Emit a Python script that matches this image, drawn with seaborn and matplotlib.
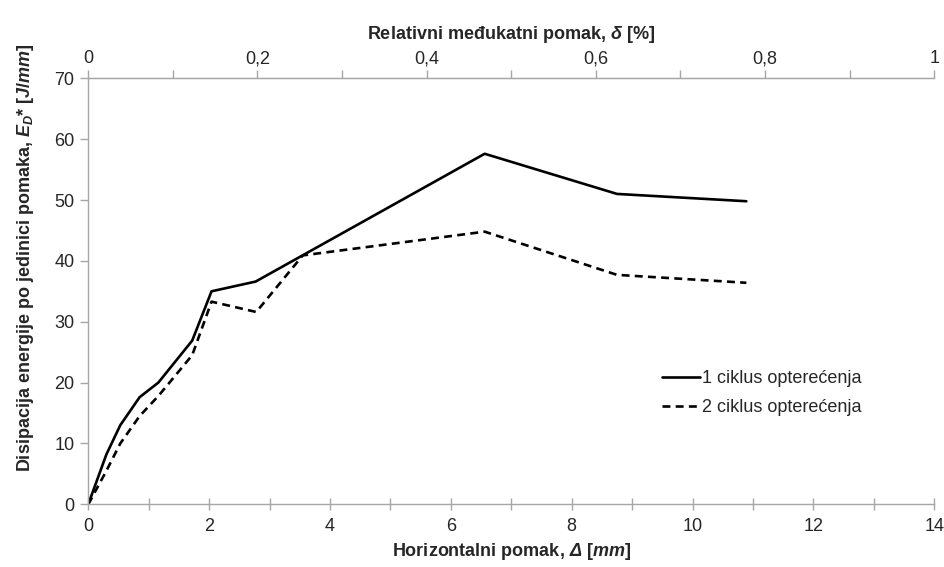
import matplotlib
matplotlib.use("Agg")
import matplotlib.pyplot as plt
import seaborn as sns
import pandas as pd
from matplotlib.ticker import MultipleLocator, FixedLocator, FixedFormatter

# Data
disp_c1 = [0.0, 0.30, 0.53, 0.85, 1.16, 1.72, 2.04, 2.77, 3.60, 6.56, 8.75, 10.89]
energy_c1 = [0.0, 8.2, 13.0, 17.6, 20.0, 26.9, 35.0, 36.6, 41.2, 57.6, 51.0, 49.8]
disp_c2 = [0.0, 0.30, 0.53, 0.85, 1.16, 1.72, 2.04, 2.78, 3.55, 6.56, 8.75, 10.89]
energy_c2 = [0.0, 5.5, 10.0, 14.5, 17.8, 24.5, 33.3, 31.6, 40.9, 44.8, 37.7, 36.4]
series_labels = ["1 ciklus opterećenja", "2 ciklus opterećenja"]
top_ticks = [0, 0.2, 0.4, 0.6, 0.8, 1.0]
top_tick_labels = ["0", "0,2", "0,4", "0,6", "0,8", "1"]
x_max_mm = 14.0

sns.set_style("white")
FONT = ["Liberation Sans", "DejaVu Sans"]
plt.rcParams["font.family"] = FONT
plt.rcParams["mathtext.fontset"] = "custom"
plt.rcParams["mathtext.rm"] = "Liberation Sans:bold"
plt.rcParams["mathtext.it"] = "Liberation Sans:italic:bold"
plt.rcParams["mathtext.bf"] = "Liberation Sans:bold"
plt.rcParams["mathtext.cal"] = "Liberation Sans:italic:bold"

FS = 13
fig = plt.figure(figsize=(9.44, 5.67), dpi=100)
ax = fig.add_axes([0.0935, 0.1106, 0.8962, 0.7513])

df1 = pd.DataFrame({"x": disp_c1, "y": energy_c1})
df2 = pd.DataFrame({"x": disp_c2, "y": energy_c2})
sns.lineplot(data=df1, x="x", y="y", ax=ax, color="black", lw=1.9,
             label=series_labels[0], sort=False, estimator=None)
sns.lineplot(data=df2, x="x", y="y", ax=ax, color="black", lw=1.9,
             label=series_labels[1], sort=False, estimator=None)
ax.lines[1].set_dashes((3, 2))

ax.set_xlim(0, x_max_mm)
ax.set_ylim(0, 70)
ax.xaxis.set_major_locator(MultipleLocator(2))
ax.xaxis.set_minor_locator(MultipleLocator(1))
ax.yaxis.set_major_locator(MultipleLocator(10))

grey = "#a6a6a6"
tc = "#262626"
for s in ["left", "bottom", "top"]:
    ax.spines[s].set_color(grey)
    ax.spines[s].set_linewidth(1.0)
ax.spines["right"].set_visible(False)

ax.tick_params(axis="x", which="both", direction="inout", length=8, width=1,
               color=grey, labelsize=FS, labelcolor=tc, pad=6, bottom=True)
ax.tick_params(axis="y", which="both", direction="out", length=6, width=1,
               color=grey, labelsize=FS, labelcolor=tc, pad=4, left=True)

ax.set_xlabel(r"Horizontalni pomak, $\mathcal{Δ}$ [$\mathit{mm}$]",
              fontsize=FS, fontweight="bold", color=tc, labelpad=4)
ax.set_ylabel(r"Disipacija energije po jedinici pomaka, $\mathit{E_D}$* [$\mathit{J/mm}$]",
              fontsize=FS, fontweight="bold", color=tc)
ax.yaxis.set_label_coords(-0.062, 0.578)

sec = ax.secondary_xaxis("top", functions=(lambda x: x / x_max_mm, lambda d: d * x_max_mm))
sec.xaxis.set_major_locator(FixedLocator(top_ticks))
sec.xaxis.set_major_formatter(FixedFormatter(top_tick_labels))
sec.xaxis.set_minor_locator(FixedLocator([0.1, 0.3, 0.5, 0.7, 0.9]))
sec.tick_params(axis="x", which="both", direction="out", length=6, width=1,
                color=grey, labelsize=FS, labelcolor=tc, pad=2)
sec.spines["top"].set_color(grey)
sec.set_xlabel(r"Relativni međukatni pomak, $\mathit{δ}$ [%]",
               fontsize=FS, fontweight="bold", color=tc, labelpad=8)

leg = ax.legend(loc="upper left", bbox_to_anchor=(0.678, 0.315), frameon=False,
                fontsize=FS, handlelength=2.1, handletextpad=0.1,
                labelspacing=0.65, borderaxespad=0, borderpad=0)
for t in leg.get_texts():
    t.set_color(tc)

fig.savefig("out.png", dpi=100)
